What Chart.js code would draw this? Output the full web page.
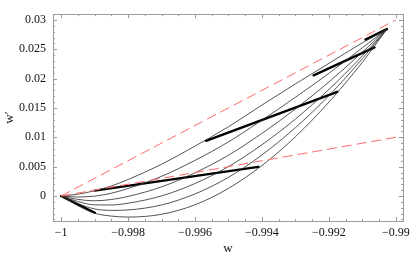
<!DOCTYPE html>
<html>
<head>
<meta charset="utf-8">
<script src="https://cdn.jsdelivr.net/npm/chart.js@4"></script>
<style>
  html, body { margin: 0; padding: 0; background: #fff; }
</style>
</head>
<body>
<canvas id="chart" width="415" height="257"></canvas>
<script>
// --------------------------------------------------------------------------
// Data
// --------------------------------------------------------------------------
const wGrid = [-1, -0.9995, -0.999, -0.9985, -0.998, -0.997, -0.996, -0.995, -0.994, -0.993, -0.992, -0.991, -0.99027];

const curve1 = [0, 0.0003, 0.0009, 0.0017, 0.0028, 0.0054, 0.0085, 0.0118, 0.0155, 0.0191, 0.0226, 0.0261, 0.02843];
const curve2 = [0, -0.00017, -0.00002, 0.00047, 0.00127, 0.00335, 0.00607, 0.00922, 0.01292, 0.01682, 0.02091, 0.02526, 0.02843];
const curve3 = [0, -0.00058, -0.00082, -0.0006, -0.00008, 0.00155, 0.00395, 0.00695, 0.01067, 0.01483, 0.01943, 0.02452, 0.02843];
const curve4 = [0, -0.00093, -0.00151, -0.00153, -0.00123, 0.00001, 0.00213, 0.00501, 0.00874, 0.01312, 0.01816, 0.02389, 0.02843];
const curve5 = [0, -0.00128, -0.0022, -0.00245, -0.00238, -0.00153, 0.00035, 0.00318, 0.00700, 0.01165, 0.01710, 0.02340, 0.02843];
const curve6 = [0, -0.00165, -0.00293, -0.00342, -0.00359, -0.00312, -0.00150, 0.00130, 0.00520, 0.01010, 0.01600, 0.02280, 0.02843];
const curves = [curve1, curve2, curve3, curve4, curve5, curve6];

// bold segments: start (w, w') -> end (w, w')
const boldStartW  = [-1, -0.99899, -0.99567, -0.99246, -0.99091];
const boldStartWp = [0, 0.00092, 0.00939, 0.02055, 0.02665];
const boldEndW    = [-0.99899, -0.99411, -0.99175, -0.99064, -0.99027];
const boldEndWp   = [-0.00285, 0.00497, 0.01775, 0.02531, 0.02843];

// red dashed bounds
const boundW = [-1, -0.99];
const upperBound = [0, 0.03];
const lowerBound = [0, 0.01];

// axes
const xTicks = [-1, -0.998, -0.996, -0.994, -0.992, -0.99];
const xTickLabels = ['\u22121', '\u22120.998', '\u22120.996', '\u22120.994', '\u22120.992', '\u22120.99'];
const yTicks = [0, 0.005, 0.01, 0.015, 0.02, 0.025, 0.03];
const yTickLabels = ['0', '0.005', '0.01', '0.015', '0.02', '0.025', '0.03'];
const xRange = [-1.00024, -0.98979];
const yRange = [-0.00426, 0.03097];

// --------------------------------------------------------------------------
// Build datasets
// --------------------------------------------------------------------------
const toPoints = (xs, ys) => xs.map((x, i) => ({ x: x, y: ys[i] }));

const datasets = [];

datasets.push({
  data: toPoints(boundW, upperBound),
  borderColor: '#ff6a6a', borderWidth: 1, borderDash: [10, 5]
});
datasets.push({
  data: toPoints(boundW, lowerBound),
  borderColor: '#ff6a6a', borderWidth: 1, borderDash: [10, 5]
});

curves.forEach(c => {
  datasets.push({
    data: toPoints(wGrid, c),
    borderColor: '#2a2a2a', borderWidth: 0.8,
    cubicInterpolationMode: 'monotone'
  });
});

boldStartW.forEach((w, i) => {
  datasets.push({
    data: [{ x: w, y: boldStartWp[i] }, { x: boldEndW[i], y: boldEndWp[i] }],
    borderColor: '#000', borderWidth: 2.4, borderCapStyle: 'round'
  });
});

datasets.forEach(d => {
  d.showLine = true;
  d.pointRadius = 0;
  d.fill = false;
});

// --------------------------------------------------------------------------
// Frame with inward ticks (Mathematica style)
// --------------------------------------------------------------------------
const frameTicks = {
  id: 'frameTicks',
  afterDatasetsDraw(chart) {
    const { ctx, chartArea: a, scales } = chart;
    const xs = scales.x, ys = scales.y;
    ctx.save();
    ctx.strokeStyle = '#9a9a9a';
    ctx.lineWidth = 1;
    ctx.strokeRect(Math.round(a.left) + 0.5, Math.round(a.top) + 0.5,
      Math.round(a.right - a.left), Math.round(a.bottom - a.top));

    const tick = (x1, y1, x2, y2) => {
      ctx.beginPath();
      ctx.moveTo(x1, y1);
      ctx.lineTo(x2, y2);
      ctx.stroke();
    };

    // x ticks, major + minor
    for (let i = 0; i < xTicks.length; i++) {
      const px = Math.round(xs.getPixelForValue(xTicks[i])) + 0.5;
      tick(px, a.bottom, px, a.bottom - 4);
      tick(px, a.top, px, a.top + 4);
      for (let k = 1; k < 4; k++) {
        const v = xTicks[i] + k * 0.0005;
        if (v > xRange[1]) break;
        const mx = Math.round(xs.getPixelForValue(v)) + 0.5;
        tick(mx, a.bottom, mx, a.bottom - 2);
        tick(mx, a.top, mx, a.top + 2);
      }
    }
    // y ticks, major + minor
    for (let i = -1; i < yTicks.length; i++) {
      const base = i < 0 ? -0.005 : yTicks[i];
      if (i >= 0) {
        const py = Math.round(ys.getPixelForValue(base)) + 0.5;
        tick(a.left, py, a.left + 4, py);
        tick(a.right, py, a.right - 4, py);
      }
      for (let k = 1; k < 5; k++) {
        const v = base + k * 0.001;
        if (v < yRange[0] || v > yRange[1]) continue;
        const my = Math.round(ys.getPixelForValue(v)) + 0.5;
        tick(a.left, my, a.left + 2, my);
        tick(a.right, my, a.right - 2, my);
      }
    }
    ctx.restore();
  }
};

// --------------------------------------------------------------------------
// Chart
// --------------------------------------------------------------------------
Chart.defaults.font.family = '"Liberation Serif", "DejaVu Serif", serif';
Chart.defaults.color = '#111';

new Chart(document.getElementById('chart'), {
  type: 'scatter',
  data: { datasets: datasets },
  options: {
    responsive: false,
    animation: false,
    layout: { padding: { top: 3, right: 9, left: 0, bottom: 0 } },
    plugins: { legend: { display: false }, tooltip: { enabled: false } },
    scales: {
      x: {
        type: 'linear',
        min: xRange[0], max: xRange[1],
        afterFit: s => { s.height = 36; },
        afterBuildTicks: s => { s.ticks = xTicks.map(v => ({ value: v })); },
        grid: { display: false, drawTicks: false },
        border: { display: false },
        ticks: {
          padding: 5,
          font: { size: 12 },
          maxRotation: 0,
          callback: (v, i) => xTickLabels[i]
        },
        title: { display: true, text: 'w', font: { size: 13 }, padding: { top: 0, bottom: 1 } }
      },
      y: {
        type: 'linear',
        min: yRange[0], max: yRange[1],
        afterFit: s => { s.width = 53; },
        afterBuildTicks: s => { s.ticks = yTicks.map(v => ({ value: v })); },
        grid: { display: false, drawTicks: false },
        border: { display: false },
        ticks: {
          padding: 7,
          font: { size: 12 },
          callback: (v, i) => yTickLabels[i]
        },
        title: { display: true, text: 'w\u2032', font: { size: 13 }, padding: { top: 2, bottom: 0 } }
      }
    }
  },
  plugins: [frameTicks]
});
</script>
</body>
</html>
